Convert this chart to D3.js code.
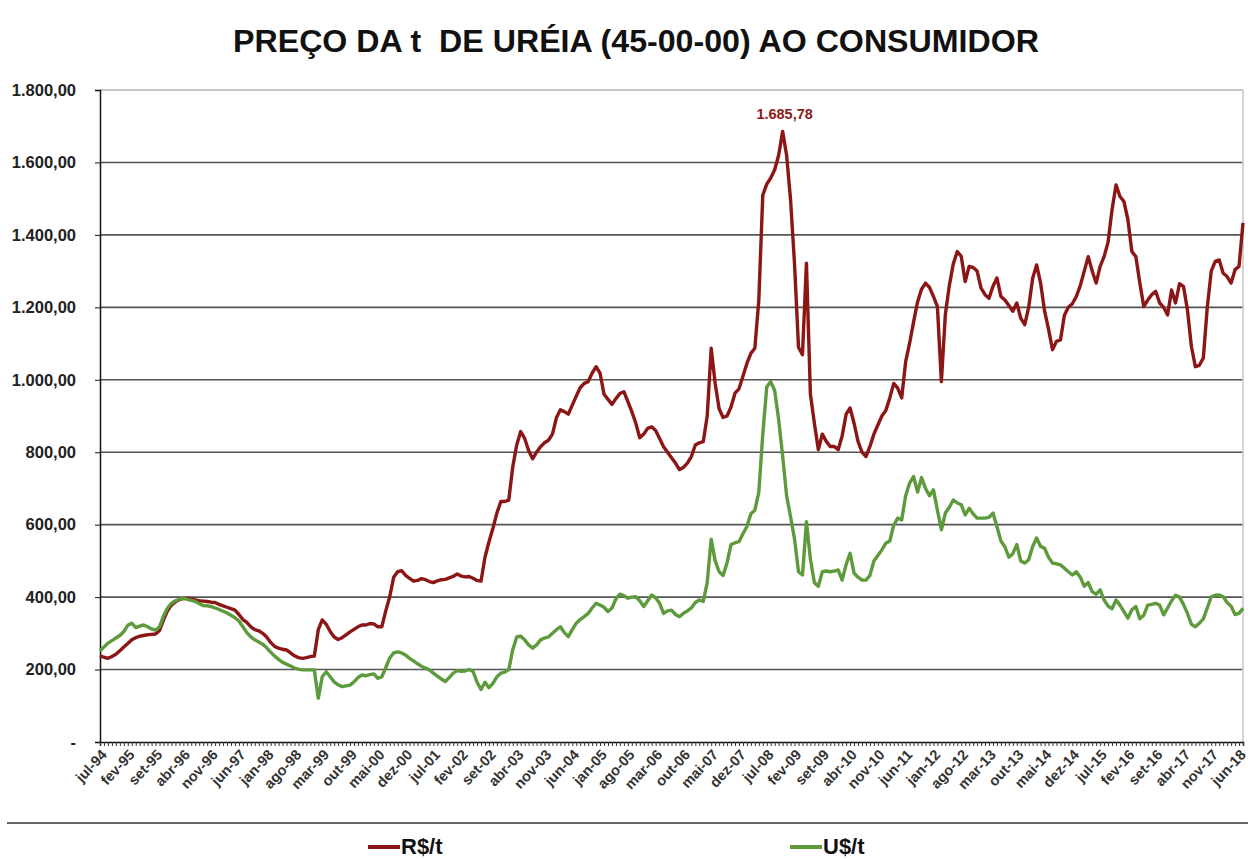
<!DOCTYPE html>
<html>
<head>
<meta charset="utf-8">
<script src="https://cdn.jsdelivr.net/npm/d3@7"></script>
<style>
  body { margin: 0; background: #ffffff; }
  svg { display: block; }
  text { font-family: 'Liberation Sans', Arial, sans-serif; }
</style>
</head>
<body>
<div id="chart"></div>
<script>
const MONTHS = ['jan', 'fev', 'mar', 'abr', 'mai', 'jun', 'jul', 'ago', 'set', 'out', 'nov', 'dez']
const START_YEAR = 1994
const START_MONTH = 6 // jul

// R$/t, monthly from jul-94
const realPerTon = [
  238, 234, 231, 236, 242, 252, 262, 272, 282, 288, 292, 294,
  296, 297, 298, 308, 337, 362, 378, 387, 393, 396, 397, 395,
  392, 390, 389, 388, 386, 385, 380, 376, 372, 368, 364, 352,
  338, 330, 318, 310, 307, 300, 290, 275, 264, 259, 256, 254,
  246, 238, 233, 231, 233, 236, 237, 310, 337, 325, 305, 290,
  283, 288, 296, 304, 311, 318, 323, 323, 327, 326, 318, 318,
  362, 401, 455, 470, 473, 460, 452, 444, 446, 451, 448, 443,
  440, 445, 448, 449, 453, 457, 464, 458, 456, 457, 452, 446,
  444, 510, 552, 590, 632, 664, 664, 668, 760, 820, 857, 838,
  805, 782, 800, 815, 826, 833, 850, 895, 917, 912, 905, 930,
  955, 978, 990, 995, 1018, 1036, 1018, 960, 946, 932, 948, 962,
  967, 940, 912, 880, 840, 850, 866, 870, 860, 838, 815, 800,
  785, 770, 752, 758, 770, 788, 820, 826, 829, 900, 1087, 990,
  920, 896, 900, 925, 963, 975, 1010, 1045, 1073, 1087, 1220, 1510,
  1540, 1557, 1580, 1620, 1685.78, 1620, 1497, 1320, 1090, 1069, 1322, 960,
  880, 807, 850, 830, 816, 816, 807, 845, 905, 922, 880, 830,
  800, 788, 816, 850, 875, 900, 915, 950, 990, 977, 950, 1050,
  1101, 1160, 1215, 1250, 1267, 1255, 1230, 1202, 995, 1180, 1260, 1320,
  1354, 1341, 1271, 1313, 1310, 1300, 1253, 1235, 1225, 1258, 1281, 1230,
  1220, 1205, 1189, 1212, 1170, 1152, 1200, 1280, 1317, 1267, 1190, 1140,
  1083, 1106, 1110, 1178, 1200, 1210, 1230, 1260, 1300, 1340, 1300, 1267,
  1313, 1340, 1380, 1469, 1538, 1506, 1492, 1442, 1354, 1340, 1267, 1202,
  1220, 1235, 1244, 1212, 1200, 1179, 1248, 1212, 1265, 1258, 1193, 1092,
  1036, 1040, 1060, 1200, 1300, 1327, 1331, 1294, 1285, 1267, 1304, 1313,
  1433,
]

// U$/t, monthly from jul-94
const dollarPerTon = [
  252, 262, 273, 280, 287, 294, 305, 322, 328, 316, 320, 323,
  318, 312, 309, 318, 348, 370, 383, 390, 394, 397, 394, 391,
  388, 382, 377, 376, 374, 370, 366, 361, 356, 350, 343, 334,
  318, 302, 290, 282, 276, 270, 260, 248, 237, 228, 220, 215,
  210, 204, 201, 199, 199, 199, 199, 121, 180, 194, 180, 166,
  158, 153, 155, 157, 166, 178, 185, 183, 186, 188, 176, 180,
  205, 232, 246, 249, 246, 240, 231, 224, 216, 209, 204, 199,
  190, 182, 174, 167, 178, 190, 197, 195, 196, 200, 195, 165,
  145, 165, 150, 162, 180, 190, 193, 200, 255, 290, 292, 282,
  268, 259, 268, 282, 287, 290, 300, 310, 318, 302, 291, 310,
  328, 338, 346, 355, 370, 383, 378, 372, 360, 370, 395, 408,
  404, 397, 400, 401, 390, 374, 390, 406, 398, 383, 355, 362,
  364, 352, 346, 355, 362, 370, 385, 392, 388, 440, 560, 500,
  470, 460, 495, 545, 550, 553, 575, 595, 630, 640, 690, 850,
  980, 995, 970, 890, 790, 680, 622, 560, 470, 461, 608, 505,
  440, 430, 470, 472, 470, 472, 475, 447, 490, 521, 466, 455,
  447, 447, 460, 500, 515, 530, 549, 555, 599, 618, 613, 680,
  715, 733, 690, 730, 700, 680, 696, 640, 586, 632, 648, 668,
  660, 655, 627, 645, 630, 618, 618, 618, 620, 632, 595, 555,
  539, 510, 520, 545, 500, 494, 503, 540, 563, 540, 535, 510,
  494, 492, 489, 480, 470, 461, 470, 455, 430, 440, 415, 408,
  420, 392, 375, 368, 392, 378, 360, 342, 365, 374, 340, 350,
  378, 380, 383, 378, 351, 370, 390, 405, 400, 380, 355, 325,
  318, 328, 340, 370, 401, 405, 406, 401, 385, 375, 352, 355,
  369,
]

const yTicks = [0, 200, 400, 600, 800, 1000, 1200, 1400, 1600, 1800]
const LABEL_EVERY = 7

const seriesNames = ['R$/t', 'U$/t']
const seriesColors = ['#8c1515', '#5c9a3c']

const WIDTH = 1248
const HEIGHT = 859
const LEFT = 100
const RIGHT = 1243
const TOP = 90
const BOTTOM = 742

const categories = realPerTon.map((_, i) => {
  const k = START_MONTH + i
  const yy = (START_YEAR + Math.floor(k / 12)) % 100
  return `${MONTHS[k % 12]}-${String(yy).padStart(2, '0')}`
})

const locale = d3.formatLocale({ decimal: ',', thousands: '.', grouping: [3], currency: ['R$', ''] })
const fmt = locale.format(',.2f')

const x = d3.scalePoint().domain(categories).range([LEFT, RIGHT])
const y = d3.scaleLinear().domain([0, 1800]).range([BOTTOM, TOP])

const svg = d3.select('#chart').append('svg').attr('width', WIDTH).attr('height', HEIGHT)

svg.append('rect').attr('width', WIDTH).attr('height', HEIGHT).attr('fill', '#ffffff')

svg
  .append('text')
  .attr('x', 636)
  .attr('y', 52)
  .attr('text-anchor', 'middle')
  .attr('font-size', 31)
  .attr('font-weight', 'bold')
  .attr('fill', '#111')
  .attr('textLength', 806)
  .attr('lengthAdjust', 'spacingAndGlyphs')
  .style('white-space', 'pre')
  .text('PREÇO DA t  DE URÉIA (45-00-00) AO CONSUMIDOR')

// gridlines
svg
  .append('g')
  .selectAll('line')
  .data(yTicks.filter((t) => t > 0))
  .join('line')
  .attr('x1', LEFT)
  .attr('x2', RIGHT)
  .attr('y1', (d) => y(d))
  .attr('y2', (d) => y(d))
  .attr('stroke', (d) => (d === 1800 ? '#b5b5b5' : '#555'))
  .attr('stroke-width', 1.6)

// right border of the plot
svg
  .append('line')
  .attr('x1', RIGHT)
  .attr('x2', RIGHT)
  .attr('y1', TOP)
  .attr('y2', BOTTOM)
  .attr('stroke', '#c4c4c4')
  .attr('stroke-width', 1.5)

// y axis
const yAxis = svg
  .append('g')
  .attr('transform', `translate(${LEFT},0)`)
  .call(
    d3
      .axisLeft(y)
      .tickValues(yTicks)
      .tickSize(5)
      .tickPadding(19)
      .tickFormat((d) => (d === 0 ? '-' : fmt(d)))
  )
yAxis.select('.domain').attr('stroke', '#111').attr('stroke-width', 1.5)
yAxis.selectAll('.tick line').attr('stroke', '#111')
yAxis
  .selectAll('.tick text')
  .attr('font-size', 16.5)
  .attr('font-weight', 'bold')
  .attr('fill', '#222')
  .attr('font-family', "'Liberation Sans', Arial, sans-serif")

// x axis, a tick per month
const xAxis = svg
  .append('g')
  .attr('transform', `translate(0,${BOTTOM})`)
  .call(d3.axisBottom(x).tickSize(4).tickFormat(''))
xAxis.select('.domain').attr('stroke', '#111').attr('stroke-width', 1.5)
xAxis.selectAll('.tick line').attr('stroke', '#333')

svg
  .append('g')
  .selectAll('text')
  .data(categories.filter((_, i) => i % LABEL_EVERY === 0))
  .join('text')
  .attr('transform', (d) => `translate(${x(d) + 4},${BOTTOM + 10}) rotate(-47)`)
  .attr('text-anchor', 'end')
  .attr('dy', '0.35em')
  .attr('font-size', 14.5)
  .attr('font-weight', 'bold')
  .attr('fill', '#333')
  .text((d) => d)

// lines
const line = d3
  .line()
  .x((d, i) => x(categories[i]))
  .y((d) => y(d))

;[realPerTon, dollarPerTon].forEach((values, k) => {
  svg
    .append('path')
    .datum(values)
    .attr('d', line)
    .attr('fill', 'none')
    .attr('stroke', seriesColors[k])
    .attr('stroke-width', 3.4)
    .attr('stroke-linejoin', 'round')
})

// peak label
const peakIdx = d3.maxIndex(realPerTon)
svg
  .append('text')
  .attr('x', x(categories[peakIdx]) + 2)
  .attr('y', y(realPerTon[peakIdx]) - 12)
  .attr('text-anchor', 'middle')
  .attr('font-size', 14.5)
  .attr('font-weight', 'bold')
  .attr('fill', '#8c1a1a')
  .text(fmt(realPerTon[peakIdx]))

// rule above legend
svg
  .append('line')
  .attr('x1', 7)
  .attr('x2', WIDTH)
  .attr('y1', 823)
  .attr('y2', 823)
  .attr('stroke', '#666')
  .attr('stroke-width', 2)

// legend
const legendX = [368, 790]
const legend = svg
  .append('g')
  .selectAll('g')
  .data(seriesNames)
  .join('g')
  .attr('transform', (d, i) => `translate(${legendX[i]},847)`)

legend
  .append('line')
  .attr('x1', 0)
  .attr('x2', 32)
  .attr('stroke', (d, i) => seriesColors[i])
  .attr('stroke-width', 4)

legend
  .append('text')
  .attr('x', 33)
  .attr('y', 7)
  .attr('font-size', 22)
  .attr('font-weight', 'bold')
  .attr('fill', '#111')
  .text((d) => d)
</script>
</body>
</html>
